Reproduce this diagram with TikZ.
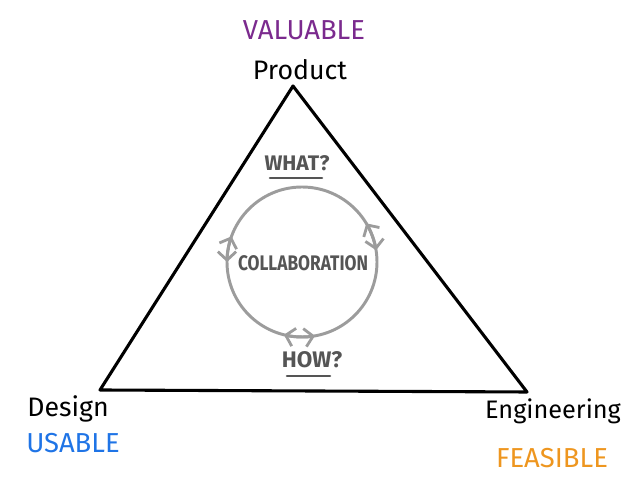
\documentclass[tikz,border=0pt]{standalone}
\usepackage{fontspec}
\setmainfont{Fira Sans}
\usetikzlibrary{arrows.meta}
\definecolor{valcol}{HTML}{7B2A8E}
\definecolor{usecol}{HTML}{1F74E6}
\definecolor{feacol}{HTML}{EE961F}
\definecolor{ringcol}{HTML}{9C9C9C}
\definecolor{inkgrey}{HTML}{555555}
\begin{document}
\begin{tikzpicture}[x=0.025cm,y=0.025cm,
  edge/.style={line width=2.2pt, line join=round},
  ring/.style={ringcol, line width=2.1pt},
  chev/.style={ring, -{Straight Barb[length=6pt,width=13pt,line width=2pt]}},
  role/.style={black, font=\fontsize{19}{20}\selectfont},
  quality/.style={font=\fontsize{19.5}{20}\selectfont},
  inner/.style={inkgrey, font=\fontsize{15}{16}\selectfont\bfseries},
  uline/.style={inkgrey, line width=1.8pt, line cap=round}]
\useasboundingbox (0,0) rectangle (640,485);

% corners of the triangle
\coordinate (top) at (293,399);
\coordinate (left) at (100,95);
\coordinate (right) at (527,93);
\draw[edge] (top) -- (left) -- (right) -- cycle;

% role and quality labels
\node[quality, valcol] (valuable) at (304,455) {VALUABLE};
\node[role] (product) at (300,415) {Product};
\node[role] (design) at (68,76) {Design};
\node[quality, usecol] (usable) at (73,42) {USABLE};
\node[role, font=\fontsize{18}{20}\selectfont] (engineering) at (553,74) {Engineering};
\node[quality, feacol] (feasible) at (552,27) {FEASIBLE};

% collaboration ring
\coordinate (c) at (302,223);
\draw[ring] (c) circle[radius=75];
\draw[chev] (c) ++(170:75) arc[start angle=170, end angle=160, radius=75];
\draw[chev] (c) ++(170:75) arc[start angle=170, end angle=180, radius=75];
\draw[chev] (c) ++(20:75) arc[start angle=20, end angle=31, radius=75];
\draw[chev] (c) ++(20:75) arc[start angle=20, end angle=9, radius=75];
\draw[chev] (c) ++(268:75) arc[start angle=268, end angle=256, radius=75];
\draw[chev] (c) ++(268:75) arc[start angle=268, end angle=280, radius=75];

% inner labels
\node[inner, xscale=0.82, transform shape] (collab) at (303,222) {COLLABORATION};
\node[inner, font=\fontsize{15}{16}\selectfont\bfseries] (what) at (297,322) {WHAT?};
\node[inner, font=\fontsize{16}{16}\selectfont\bfseries] (how) at (312,125) {HOW?};
\coordinate (wl) at (270,307);
\coordinate (wr) at (322,307);
\coordinate (hl) at (287,109);
\coordinate (hr) at (330,109);
\draw[uline] (wl) -- (wr);
\draw[uline] (hl) -- (hr);
\end{tikzpicture}
\end{document}
